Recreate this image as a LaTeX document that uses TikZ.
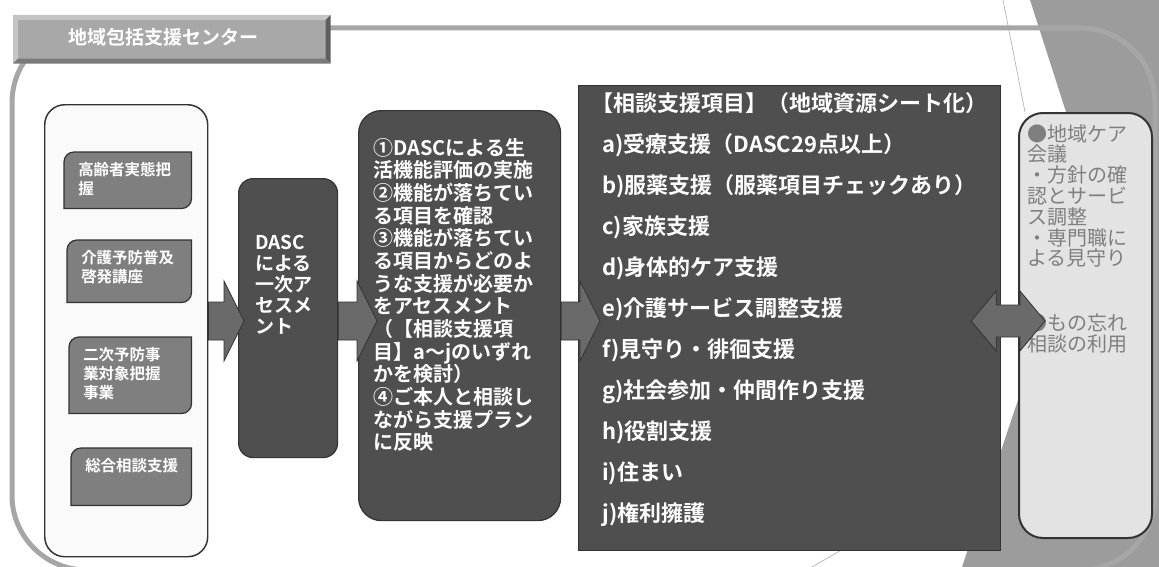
\documentclass[tikz,border=0pt]{standalone}
\usepackage{fontspec}
\setmainfont{Noto Sans CJK JP}[BoldFont={Noto Sans CJK JP Bold}]
\usetikzlibrary{positioning, calc}
\definecolor{framegray}{HTML}{A6A6A6}
\definecolor{tabgray}{HTML}{A8A8A8}
\definecolor{tablight}{HTML}{C4C4C4}
\definecolor{tabdark}{HTML}{5E5E5E}
\definecolor{tabshade}{HTML}{7A7A7A}
\definecolor{edgegray}{HTML}{333333}
\definecolor{colfill}{HTML}{FAFAFA}
\definecolor{midgray}{HTML}{7F7F7F}
\definecolor{darkfill}{HTML}{4F4F4F}
\definecolor{arrowgray}{HTML}{6A6A6A}
\definecolor{carefill}{HTML}{E3E3E3}
\definecolor{texgray}{HTML}{9C9C9C}
\newcommand{\pxu}{0.75pt}
% small boxes with two round corners: name, left x, top y, height, text
\newcommand{\subcaja}[5]{%
  \node[subbox, minimum width=(191-#2)*\pxu, minimum height=#4*\pxu, anchor=north west] (#1) at (#2,#3) {};
  \draw[subframe] (#1.west) [rounded corners=7.5pt] -- (#1.north west) -- (#1.north)
    [sharp corners] -- (#1.north east) -- (#1.east)
    [rounded corners=7.5pt] -- (#1.south east) -- (#1.south)
    [sharp corners] -- (#1.south west) -- cycle;
  \node[subtext, below right=7.5pt and 10.5pt of #1.north west] (#1t) {#5};}
\newcommand{\blockarrow}[2]{%
  \path[blockarr] let \p1=(#1), \p2=(#2) in
    (\x1,\y1+14.25pt) -- (\x2-15pt,\y1+14.25pt) -- (\x2-15pt,\y1+30pt) -- (\x2,\y1)
    -- (\x2-15pt,\y1-30pt) -- (\x2-15pt,\y1-14.25pt) -- (\x1,\y1-14.25pt) -- cycle;}
\newcommand{\doublearrow}[2]{%
  \path[blockarr] let \p1=(#1), \p2=(#2) in
    (\x1,\y1) -- (\x1+18.75pt,\y1+22.5pt) -- (\x1+18.75pt,\y1+12pt) -- (\x2-18.75pt,\y1+12pt)
    -- (\x2-18.75pt,\y1+22.5pt) -- (\x2,\y1) -- (\x2-18.75pt,\y1-22.5pt) -- (\x2-18.75pt,\y1-12pt)
    -- (\x1+18.75pt,\y1-12pt) -- (\x1+18.75pt,\y1-22.5pt) -- cycle;}

\begin{document}
\begin{tikzpicture}[x=0.75pt, y=-0.75pt,
    frameline/.style={draw=framegray, line width=3.75pt, rounded corners=56pt},
    tabbox/.style={fill=tabgray, inner sep=0pt},
    tabtext/.style={text=white, font=\bfseries\fontsize{14.25}{16}\selectfont, inner sep=0pt},
    colbox/.style={draw=edgegray, line width=1.1pt, fill=colfill, rounded corners=15pt, inner sep=0pt},
    subbox/.style={inner sep=0pt},
    subframe/.style={draw=edgegray, line width=0.9pt, fill=midgray},
    subtext/.style={text=white, font=\bfseries\fontsize{11.6}{14.3}\selectfont, align=left, inner sep=0pt},
    darkbox/.style={draw=edgegray, line width=0.9pt, fill=darkfill, inner sep=0pt},
    boxtext/.style={text=white, align=left, inner sep=0pt},
    carebox/.style={draw=edgegray, line width=1.5pt, fill=carefill, rounded corners=18pt, inner sep=0pt},
    caretext/.style={text=midgray, align=left, inner sep=0pt, font=\fontsize{15}{15.6}\selectfont},
    blockarr/.style={fill=arrowgray, draw=edgegray, line width=0.6pt, line join=miter}]

  \useasboundingbox (0,0) rectangle (1159,567);

  % background of the slide
  \fill[texgray] (1030,0) -- (1159,0) -- (1159,567) -- (962,567) -- (1018,400) -- (1018,300) -- (1066,112) -- cycle;
  \draw[gray!60, line width=0.5pt] (1003,0) -- (1025,112);
  \draw[gray!60, line width=0.5pt] (850,545) -- (812,567);

  % outer frame and title tab
  \draw[frameline] (12,28) rectangle (1155,570);
  \node[tabbox, minimum width=317*\pxu, minimum height=48*\pxu, anchor=north west] (tab) at (13,15) {};
  \fill[tablight] (tab.north west) -- (tab.north east) -- ($(tab.north east)+(-5,5)$) -- ($(tab.north west)+(5,5)$) -- cycle;
  \fill[tablight] (tab.north west) -- ($(tab.north west)+(5,5)$) -- ($(tab.south west)+(5,-5)$) -- (tab.south west) -- cycle;
  \fill[tabdark] (tab.north east) -- (tab.south east) -- ($(tab.south east)+(-5,-5)$) -- ($(tab.north east)+(-5,5)$) -- cycle;
  \fill[tabshade] (tab.south west) -- (tab.south east) -- ($(tab.south east)+(-5,-5)$) -- ($(tab.south west)+(5,-5)$) -- cycle;
  \node[tabtext] (tabt) at ($(tab.center)+(-8,-2)$) {地域包括支援センター};

  % left column
  \node[colbox, minimum width=163*\pxu, minimum height=452*\pxu, anchor=north west] (col) at (44,104) {};
  \subcaja{ka}{64}{152}{56}{高齢者実態把\\握}
  \subcaja{kb}{67}{240}{62}{介護予防普及\\啓発講座}
  \subcaja{kc}{69}{337}{76}{二次予防事\\業対象把握\\事業}
  \subcaja{kd}{71}{448}{57}{総合相談支援}

  % assessment boxes
  \node[darkbox, rounded corners=11pt, minimum width=99*\pxu, minimum height=279*\pxu, anchor=north west] (dasc) at (238,178) {};
  \node[boxtext, font=\bfseries\fontsize{14.25}{15.75}\selectfont, below right=42.75pt and 12.75pt of dasc.north west] (dasct)
    {DASC\\による\\一次ア\\セスメ\\ント};
  \node[darkbox, rounded corners=17pt, minimum width=202*\pxu, minimum height=410*\pxu, anchor=north west] (plan) at (358,110) {};
  \node[boxtext, font=\bfseries\fontsize{15}{17}\selectfont, below right=21pt and 11.25pt of plan.north west] (plant)
    {①DASCによる生\\活機能評価の実施\\②機能が落ちてい\\る項目を確認\\③機能が落ちてい\\る項目からどのよ\\うな支援が必要か\\をアセスメント\\（【相談支援項\\目】a～jのいずれ\\かを検討）\\④ご本人と相談し\\ながら支援プラン\\に反映};

  % support items
  \node[darkbox, minimum width=422*\pxu, minimum height=465*\pxu, anchor=north west] (items) at (578,85) {};
  \node[boxtext, font=\bfseries\fontsize{16.5}{30.8}\selectfont, below right=5.25pt and 18pt of items.north west] (itemst)
    {\hspace*{-0.5em}【相談支援項目】（地域資源シート化）\\a)受療支援（DASC29点以上）\\b)服薬支援（服薬項目チェックあり）\\c)家族支援\\d)身体的ケア支援\\e)介護サービス調整支援\\f)見守り・徘徊支援\\g)社会参加・仲間作り支援\\h)役割支援\\i)住まい\\j)権利擁護};

  % community care
  \node[carebox, minimum width=133*\pxu, minimum height=425*\pxu, anchor=north west] (care) at (1018,112) {};
  \node[caretext, below right=9pt and 6.75pt of care.north west] (caret)
    {●地域ケア\\会議\\・方針の確\\認とサービ\\ス調整\\・専門職に\\よる見守り\\[33pt]●もの忘れ\\相談の利用};

  % block arrows
  \coordinate (axis) at (0,321);
  \blockarrow{col.east |- axis}{$(dasc.west |- axis)+(6,0)$}
  \blockarrow{dasc.east |- axis}{$(plan.west |- axis)+(19,0)$}
  \blockarrow{plan.east |- axis}{$(items.west |- axis)+(22,0)$}
  \doublearrow{$(items.east |- axis)+(-30,0)$}{$(care.west |- axis)+(27,0)$}
\end{tikzpicture}
\end{document}
